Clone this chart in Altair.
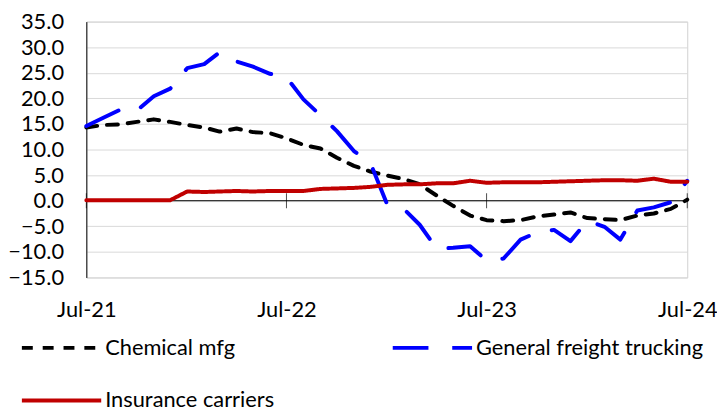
import altair as alt
import pandas as pd

# ---- data ----
months = [d.strftime("%Y-%m-%d") for d in pd.date_range("2021-07-01", "2024-07-01", freq="MS")]

chemical_mfg = [14.3, 14.8, 14.9, 15.4, 15.9, 15.4, 14.8, 14.3, 13.5, 14.1, 13.4, 13.2,
                12.2, 10.9, 10.2, 8.4, 6.8, 5.7, 4.9, 4.2, 3.2, 1.0, -1.0, -2.9,
                -3.8, -4.0, -3.8, -3.1, -2.7, -2.3, -3.4, -3.6, -3.8, -2.9, -2.5, -1.6, 0.2]

freight_trucking = [14.6, 16.2, 17.8, 17.6, 20.4, 21.9, 25.9, 26.7, 29.0, 27.2, 26.2, 24.8,
                    24.1, 19.8, 16.7, 13.6, 9.7, 7.4, -0.8, -1.7, -4.7, -9.4, -9.2, -8.9,
                    -11.7, -11.3, -7.6, -6.2, -5.7, -7.9, -3.9, -5.1, -7.6, -1.9, -1.3, -0.3, 3.9]

insurance_carriers = [0.1, 0.1, 0.1, 0.1, 0.1, 0.1, 1.8, 1.7, 1.8, 1.9, 1.8, 1.9,
                      1.9, 1.9, 2.3, 2.4, 2.5, 2.7, 3.1, 3.2, 3.2, 3.4, 3.4, 3.9,
                      3.5, 3.6, 3.6, 3.6, 3.7, 3.8, 3.9, 4.0, 4.0, 3.9, 4.3, 3.7, 3.7]

series_names = ["Chemical mfg", "General freight trucking", "Insurance carriers"]
series_colors = ["#000000", "#0000FF", "#C00000"]
series_dashes = [[11, 10], [36, 24], [1, 0]]
# legend fills column by column: this order gives the reference's 2-column layout
legend_order = ["Chemical mfg", "Insurance carriers", "General freight trucking"]

tick_dates = ["2021-07-01", "2022-07-01", "2023-07-01", "2024-07-01"]
y_ticks = [-15, -10, -5, 0, 5, 10, 15, 20, 25, 30, 35]

# ---- tables ----
rows = []
for name, vals in zip(series_names, [chemical_mfg, freight_trucking, insurance_carriers]):
    for d, v in zip(months, vals):
        rows.append({"date": d, "series": name, "value": v})
df = pd.DataFrame(rows)
ticks_df = pd.DataFrame({"date": tick_dates, "value": [0] * len(tick_dates)})
zero_df = pd.DataFrame({"value": [0]})

FONT = "Lato"

x_enc = alt.X(
    "date:T",
    scale=alt.Scale(type="utc", domain=[alt.DateTime(year=2021, month=7, date=1, utc=True),
                                        alt.DateTime(year=2024, month=7, date=1, utc=True)], nice=False),
    axis=alt.Axis(
        values=[alt.DateTime(year=int(t[:4]), month=7, date=1, utc=True) for t in tick_dates],
        labelExpr="utcFormat(datum.value, '%b-%y')", title=None, grid=False, domain=False,
        ticks=False, tickSize=0, labelPadding=22, labelFlush=False,
        labelFont=FONT, labelFontSize=22, labelColor="#000000",
    ),
)
y_enc = alt.Y(
    "value:Q",
    scale=alt.Scale(domain=[-15, 35], nice=False, zero=False),
    axis=alt.Axis(
        values=y_ticks, format=".1f", title=None, grid=True, gridColor="#D9D9D9",
        gridWidth=1, domain=True, domainColor="#000000", domainWidth=1,
        ticks=False, tickSize=0, labelPadding=23,
        labelFont=FONT, labelFontSize=22, labelColor="#000000",
    ),
)

legend = alt.Legend(
    title=None, orient="none", legendX=-67, legendY=287, columns=2,
    values=legend_order,
    symbolType="stroke", symbolSize=6400, symbolStrokeWidth=4,
    labelFont=FONT, labelFontSize=22, labelColor="#000000", labelLimit=500,
    labelOffset=2, columnPadding=111, rowPadding=-22,
)

zero_line = alt.Chart(zero_df).mark_rule(color="#000000", strokeWidth=1).encode(y=y_enc)
tick_marks = alt.Chart(ticks_df).mark_tick(
    orient="vertical", size=15, thickness=1, color="#000000"
).encode(x=x_enc, y=y_enc)

lines = alt.Chart(df).mark_line(strokeWidth=4, strokeCap="round", strokeJoin="round").encode(
    x=x_enc,
    y=y_enc,
    color=alt.Color("series:N", scale=alt.Scale(domain=series_names, range=series_colors), legend=legend),
    strokeDash=alt.StrokeDash("series:N", scale=alt.Scale(domain=series_names, range=series_dashes), legend=legend),
)

chart = alt.layer(zero_line, tick_marks, lines).properties(
    width=606, height=258,
    padding={"left": 79, "top": 12, "right": 30, "bottom": 140},
    autosize=alt.AutoSizeParams(type="none"),
    background="white",
).configure_view(stroke="#D0D0D0", strokeWidth=1)

chart.save("out.html", embed_options={"renderer": "svg", "actions": False})
